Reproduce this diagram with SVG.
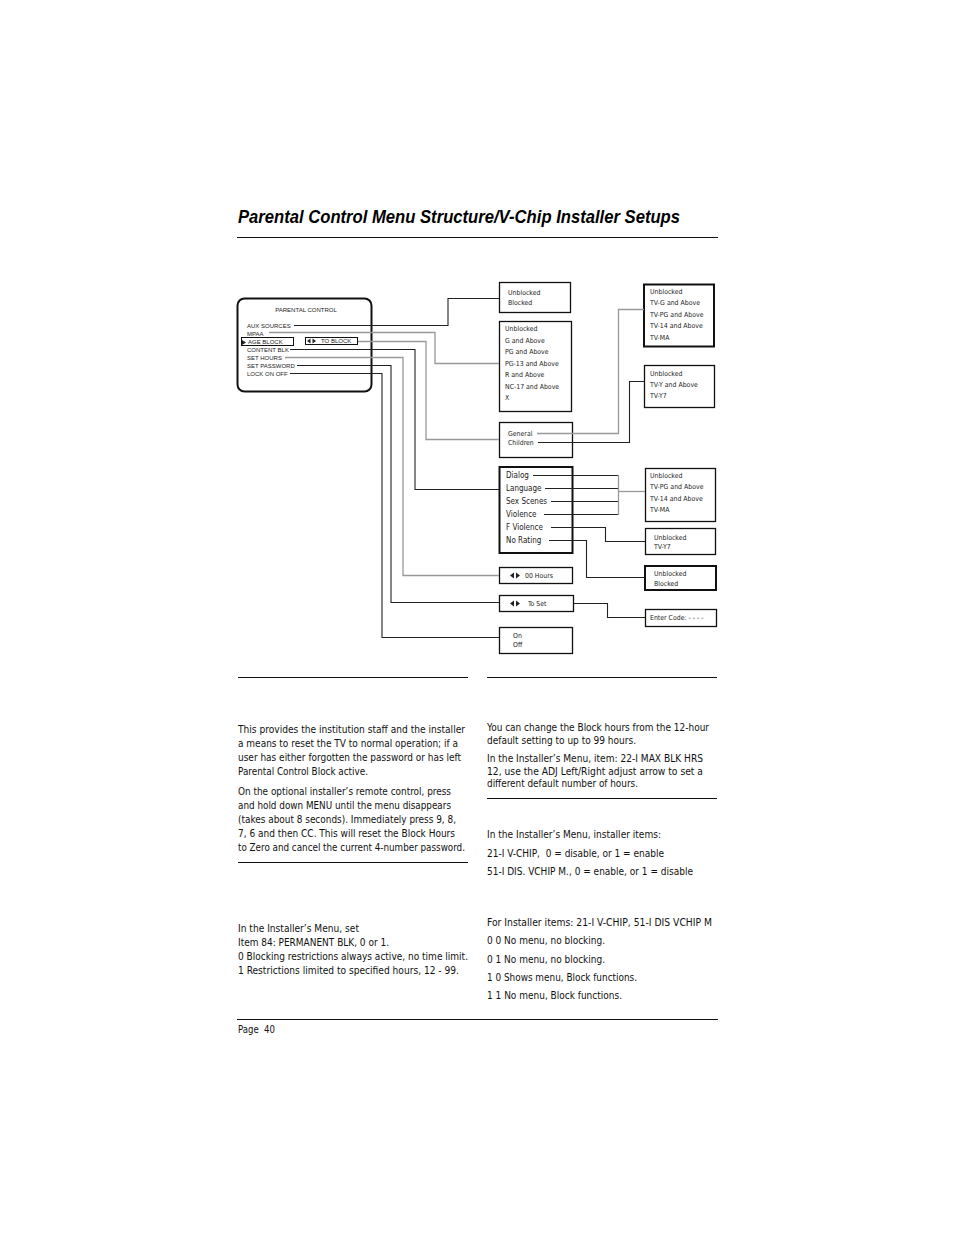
<svg xmlns="http://www.w3.org/2000/svg" width="954" height="1235" viewBox="0 0 954 1235">
<style>
.bx{fill:#fff;stroke:#111;stroke-width:1.3}
.bxt{fill:#fff;stroke:#111;stroke-width:2}
.k{fill:none;stroke:#222;stroke-width:1.1}
.g{fill:none;stroke:#999;stroke-width:1.3}
.rule{stroke:#111;stroke-width:1}
.pc{font-family:"Liberation Sans",Arial,sans-serif;font-size:6px;fill:#222}
.s{font-family:"DejaVu Sans Condensed","DejaVu Sans",sans-serif;font-size:6.9px;fill:#222}
.m{font-family:"DejaVu Sans Condensed","DejaVu Sans",sans-serif;font-size:8px;fill:#222}
.b{font-family:"DejaVu Sans Condensed","DejaVu Sans",sans-serif;font-size:9.6px;fill:#111;white-space:pre}
.t{font-family:"Liberation Sans",Arial,sans-serif;font-size:18.5px;font-weight:bold;font-style:italic;fill:#000}
.ic{fill:#222}
</style>
<rect width="954" height="1235" fill="#fff"/>

<text class="t" x="238" y="223" textLength="442" lengthAdjust="spacingAndGlyphs">Parental Control Menu Structure/V-Chip Installer Setups</text>
<line class="rule" x1="237" y1="237.5" x2="718" y2="237.5"/>

<g id="parental-control">
  <rect x="237.5" y="298.5" width="134" height="93" rx="7" fill="#fff" stroke="#111" stroke-width="2"/>
  <text class="pc" x="306" y="312" text-anchor="middle" font-size="7">PARENTAL CONTROL</text>
  <text class="pc" x="247" y="328">AUX SOURCES</text>
  <text class="pc" x="247" y="336">MPAA</text>
  <polygon class="ic" points="242,340 246,342.5 242,345"/>
  <rect x="241.5" y="337.5" width="52" height="8" fill="none" stroke="#111" stroke-width="1"/>
  <text class="pc" x="248" y="344">AGE BLOCK</text>
  <rect x="305.5" y="337.5" width="52" height="7" fill="#fff" stroke="#111" stroke-width="1"/>
  <polygon class="ic" points="307,341 310.5,338.5 310.5,343.5"/>
  <polygon class="ic" points="316,341 312.5,338.5 312.5,343.5"/>
  <text class="pc" x="321" y="343" font-size="5">TO BLOCK</text>
  <text class="pc" x="247" y="352">CONTENT BLK</text>
  <text class="pc" x="247" y="360">SET HOURS</text>
  <text class="pc" x="247" y="368">SET PASSWORD</text>
  <text class="pc" x="247" y="376">LOCK ON OFF</text>
</g>

<g id="aux-box">
  <rect class="bx" x="499.5" y="282.5" width="71" height="30"/>
  <text class="s" x="508" y="295">Unblocked</text>
  <text class="s" x="508" y="305">Blocked</text>
</g>

<g id="mpaa-box">
  <rect class="bx" x="499.5" y="321.5" width="72" height="90"/>
  <text class="s" x="505" y="331">Unblocked</text>
  <text class="s" x="505" y="343">G and Above</text>
  <text class="s" x="505" y="354">PG and Above</text>
  <text class="s" x="505" y="366">PG-13 and Above</text>
  <text class="s" x="505" y="377">R and Above</text>
  <text class="s" x="505" y="389">NC-17 and Above</text>
  <text class="s" x="505" y="400">X</text>
</g>

<g id="age-box">
  <rect class="bx" x="499.5" y="422.5" width="73" height="35"/>
  <text class="s" x="508" y="436">General</text>
  <text class="s" x="508" y="445">Children</text>
</g>

<g id="content-box">
  <rect class="bxt" x="499.5" y="467" width="73" height="86"/>
  <text class="m" x="506" y="478">Dialog</text>
  <text class="m" x="506" y="491">Language</text>
  <text class="m" x="506" y="504">Sex Scenes</text>
  <text class="m" x="506" y="517">Violence</text>
  <text class="m" x="506" y="530">F Violence</text>
  <text class="m" x="506" y="543">No Rating</text>
</g>

<g id="hours-box">
  <rect class="bx" x="499.5" y="567.5" width="73" height="16"/>
  <polygon class="ic" points="510,575.5 514,572.5 514,578.5"/>
  <polygon class="ic" points="520,575.5 516,572.5 516,578.5"/>
  <text class="s" x="525" y="578">00 Hours</text>
</g>

<g id="password-box">
  <rect class="bx" x="499.5" y="595.5" width="74" height="16"/>
  <polygon class="ic" points="510,603.5 514,600.5 514,606.5"/>
  <polygon class="ic" points="520,603.5 516,600.5 516,606.5"/>
  <text class="s" x="528" y="606">To Set</text>
</g>

<g id="lock-box">
  <rect class="bx" x="499.5" y="627.5" width="73" height="26"/>
  <text class="s" x="513" y="638">On</text>
  <text class="s" x="513" y="647">Off</text>
</g>

<g id="tv-general-box">
  <rect class="bxt" x="644" y="284.5" width="70" height="62"/>
  <text class="s" x="650" y="294">Unblocked</text>
  <text class="s" x="650" y="305">TV-G and Above</text>
  <text class="s" x="650" y="317">TV-PG and Above</text>
  <text class="s" x="650" y="328">TV-14 and Above</text>
  <text class="s" x="650" y="340">TV-MA</text>
</g>

<g id="tv-children-box">
  <rect class="bx" x="644.5" y="365.5" width="70" height="42"/>
  <text class="s" x="650" y="376">Unblocked</text>
  <text class="s" x="650" y="387">TV-Y and Above</text>
  <text class="s" x="650" y="398">TV-Y7</text>
</g>

<g id="content-rating-box">
  <rect class="bx" x="645.5" y="468.5" width="70" height="53"/>
  <text class="s" x="650" y="478">Unblocked</text>
  <text class="s" x="650" y="489">TV-PG and Above</text>
  <text class="s" x="650" y="501">TV-14 and Above</text>
  <text class="s" x="650" y="512">TV-MA</text>
</g>

<g id="fviolence-box">
  <rect class="bx" x="645.5" y="528.5" width="70" height="26"/>
  <text class="s" x="654" y="540">Unblocked</text>
  <text class="s" x="654" y="549">TV-Y7</text>
</g>

<g id="norating-box">
  <rect class="bxt" x="645" y="566" width="71" height="24"/>
  <text class="s" x="654" y="576">Unblocked</text>
  <text class="s" x="654" y="586">Blocked</text>
</g>

<g id="code-box">
  <rect class="bx" x="645.5" y="609.5" width="71" height="17"/>
  <text class="s" x="650" y="620">Enter Code: - - - -</text>
</g>

<g id="connectors">
  <!-- from parental control menu -->
  <polyline class="k" points="294,325.5 448,325.5 448,298.5 499,298.5"/>
  <polyline class="g" points="269,332.5 435,332.5 435,363.5 499,363.5"/>
  <polyline class="g" points="358,341.5 426,341.5 426,439.5 499,439.5"/>
  <polyline class="k" points="290,349.5 415,349.5 415,489.5 499,489.5"/>
  <polyline class="g" points="285,357.5 403,357.5 403,575.5 499,575.5"/>
  <polyline class="k" points="297,365.5 391,365.5 391,602.5 499,602.5"/>
  <polyline class="k" points="290,373.5 382,373.5 382,637.5 499,637.5"/>
  <!-- General / Children -->
  <polyline class="g" points="537,433.5 618.5,433.5 618.5,309.5 644,309.5"/>
  <polyline class="k" points="538,442.5 629.5,442.5 629.5,381.5 644,381.5"/>
  <!-- content items -->
  <polyline class="k" points="533,475.5 618.5,475.5"/>
  <polyline class="k" points="545,488.5 618.5,488.5"/>
  <polyline class="k" points="551,501.5 618.5,501.5"/>
  <polyline class="k" points="544,514.5 618.5,514.5"/>
  <line class="g" x1="618.5" y1="475" x2="618.5" y2="515"/>
  <line class="g" x1="618.5" y1="491.5" x2="645" y2="491.5"/>
  <polyline class="k" points="551,527.5 605.5,527.5 605.5,541.5 645,541.5"/>
  <polyline class="k" points="549,540.5 586.5,540.5 586.5,577.5 645,577.5"/>
  <polyline class="k" points="574,603.5 607.5,603.5 607.5,617.5 645,617.5"/>
</g>

<g id="text">
  <line class="rule" x1="238" y1="677.5" x2="468" y2="677.5"/>
  <line class="rule" x1="487" y1="677.5" x2="717" y2="677.5"/>
  <line class="rule" x1="487" y1="798.5" x2="717" y2="798.5"/>
  <line class="rule" x1="238" y1="862.5" x2="468" y2="862.5"/>
  <line class="rule" x1="237" y1="1019.5" x2="718" y2="1019.5"/>

  <text class="b" x="238" y="733" textLength="227" lengthAdjust="spacingAndGlyphs">This provides the institution staff and the installer</text>
  <text class="b" x="238" y="747" textLength="220" lengthAdjust="spacingAndGlyphs">a means to reset the TV to normal operation; if a</text>
  <text class="b" x="238" y="761" textLength="223" lengthAdjust="spacingAndGlyphs">user has either forgotten the password or has left</text>
  <text class="b" x="238" y="775" textLength="130" lengthAdjust="spacingAndGlyphs">Parental Control Block active.</text>
  <text class="b" x="238" y="795" textLength="213" lengthAdjust="spacingAndGlyphs">On the optional installer’s remote control, press</text>
  <text class="b" x="238" y="809" textLength="213" lengthAdjust="spacingAndGlyphs">and hold down MENU until the menu disappears</text>
  <text class="b" x="238" y="823" textLength="218" lengthAdjust="spacingAndGlyphs">(takes about 8 seconds). Immediately press 9, 8,</text>
  <text class="b" x="238" y="837" textLength="217" lengthAdjust="spacingAndGlyphs">7, 6 and then CC. This will reset the Block Hours</text>
  <text class="b" x="238" y="851" textLength="227" lengthAdjust="spacingAndGlyphs">to Zero and cancel the current 4-number password.</text>

  <text class="b" x="238" y="932" textLength="121" lengthAdjust="spacingAndGlyphs">In the Installer’s Menu, set</text>
  <text class="b" x="238" y="946" textLength="151" lengthAdjust="spacingAndGlyphs">Item 84: PERMANENT BLK, 0 or 1.</text>
  <text class="b" x="238" y="960" textLength="230" lengthAdjust="spacingAndGlyphs">0 Blocking restrictions always active, no time limit.</text>
  <text class="b" x="238" y="974" textLength="221" lengthAdjust="spacingAndGlyphs">1 Restrictions limited to specified hours, 12 - 99.</text>

  <text class="b" x="238" y="1033" textLength="37" lengthAdjust="spacingAndGlyphs">Page  40</text>

  <text class="b" x="487" y="731" textLength="222" lengthAdjust="spacingAndGlyphs">You can change the Block hours from the 12-hour</text>
  <text class="b" x="487" y="744" textLength="149" lengthAdjust="spacingAndGlyphs">default setting to up to 99 hours.</text>
  <text class="b" x="487" y="762" textLength="216" lengthAdjust="spacingAndGlyphs">In the Installer’s Menu, item: 22-I MAX BLK HRS</text>
  <text class="b" x="487" y="775" textLength="216" lengthAdjust="spacingAndGlyphs">12, use the ADJ Left/Right adjust arrow to set a</text>
  <text class="b" x="487" y="787" textLength="151" lengthAdjust="spacingAndGlyphs">different default number of hours.</text>

  <text class="b" x="487" y="838" textLength="174" lengthAdjust="spacingAndGlyphs">In the Installer’s Menu, installer items:</text>
  <text class="b" x="487" y="857" textLength="177" lengthAdjust="spacingAndGlyphs">21-I V-CHIP,  0 = disable, or 1 = enable</text>
  <text class="b" x="487" y="875" textLength="206" lengthAdjust="spacingAndGlyphs">51-I DIS. VCHIP M., 0 = enable, or 1 = disable</text>

  <text class="b" x="487" y="926" textLength="225" lengthAdjust="spacingAndGlyphs">For Installer items: 21-I V-CHIP, 51-I DIS VCHIP M</text>
  <text class="b" x="487" y="944" textLength="118" lengthAdjust="spacingAndGlyphs">0 0 No menu, no blocking.</text>
  <text class="b" x="487" y="963" textLength="118" lengthAdjust="spacingAndGlyphs">0 1 No menu, no blocking.</text>
  <text class="b" x="487" y="981" textLength="150" lengthAdjust="spacingAndGlyphs">1 0 Shows menu, Block functions.</text>
  <text class="b" x="487" y="999" textLength="135" lengthAdjust="spacingAndGlyphs">1 1 No menu, Block functions.</text>
</g>
</svg>
